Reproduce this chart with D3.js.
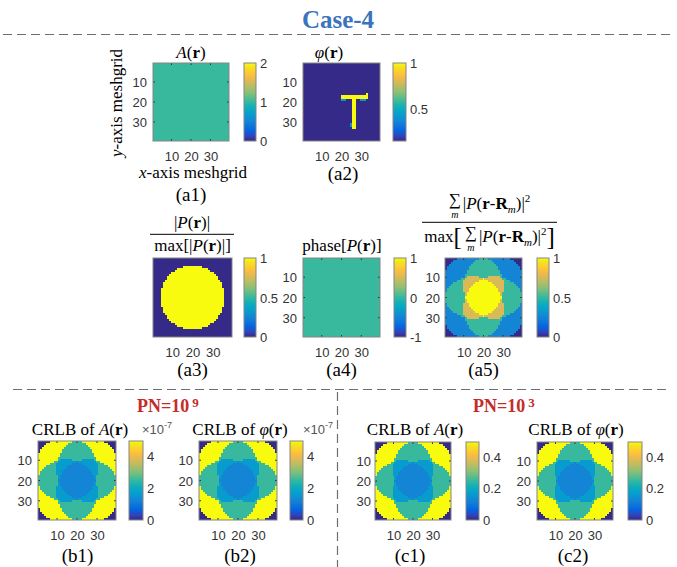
<!DOCTYPE html>
<html><head><meta charset="utf-8">
<script src="https://cdn.jsdelivr.net/npm/d3@7/dist/d3.min.js"></script>
<style>body{margin:0;background:#fff}svg{display:block}</style>
</head><body>
<svg id="fig" width="677" height="567"></svg>
<script>
// ---------------- data ----------------
const gridSize = 39;                 // pixels per side of each map
const gridCenter = 20;
const gridTicks = [10, 20, 30];

const amplitudeValue = 1;            // A(r): uniform amplitude
const phaseRange = [0.14, 1];        // φ(r): background level .. letter level
// blocks of the letter "T" in φ(r): [col0, col1, row0, row1, value]
const phaseBlocks = [
  [20, 33, 17, 18, 1],
  [33, 33, 16, 16, 1],
  [26, 27, 19, 33, 1],
  [20, 22, 19, 19, 0.4],
  [30, 32, 19, 19, 0.4],
  [25, 25, 31, 32, 0.4]
];
const probeRadius = 15.8;            // circular probe P(r)
const probePhase = 0;                // phase[P(r)]
const scanShifts = [[-5.5, -5.5], [5.5, -5.5], [-5.5, 5.5], [5.5, 5.5]];   // R_m
const overlapLevels = [0, 0.25, 0.5, 0.75, 1];             // normalised Σ|P(r-R_m)|² by overlap count
const crlbPN9 = [0, 4.9e-7, 2.45e-7, 1.63e-7, 1.23e-7];    // CRLB by overlap count, PN = 1e9
const crlbPN3 = [0, 0.49, 0.245, 0.163, 0.123];            // CRLB by overlap count, PN = 1e3

const cbAmplitude = {domain: [0, 2], ticks: [0, 1, 2]};
const cbPhi = {domain: [0.14, 1.0], ticks: [0.5, 1]};
const cbProbe = {domain: [0, 1], ticks: [0, 0.5, 1]};
const cbProbePhase = {domain: [-1, 1], ticks: [-1, 0, 1]};
const cbOverlap = {domain: [0, 1], ticks: [0, 0.5, 1]};
const cbPN9 = {domain: [0, 4.9e-7], ticks: [0, 2e-7, 4e-7], fmt: d => String(Math.round(d / 1e-7))};
const cbPN3 = {domain: [0, 0.49], ticks: [0, 0.2, 0.4]};

// parula colormap (sampled)
const parulaStops = [
  [0, '#352a87'], [4, '#3243ba'], [8, '#0363e1'], [12, '#0d75dc'], [16, '#1485d4'],
  [20, '#0998d1'], [24, '#06a7c6'], [28, '#15b1b4'], [32, '#38b99e'], [36, '#65be86'],
  [40, '#92bf73'], [44, '#b7bd64'], [48, '#d9ba56'], [52, '#f8bb44'], [56, '#fcce2e'],
  [60, '#f5e41d'], [63, '#f9fb0e']
];

// ---------------- helpers ----------------
const SERIF = "'Liberation Serif','Times New Roman',serif";
const SANS = "'Liberation Sans',Arial,Helvetica,sans-serif";
const parula = d3.scaleLinear()
  .domain(parulaStops.map(d => d[0] / 63))
  .range(parulaStops.map(d => d[1]))
  .interpolate(d3.interpolateRgb).clamp(true);
const colorAt = t => parula(Math.max(0, Math.min(63, Math.floor(t * 64))) / 63);

const idx = d3.range(1, gridSize + 1);
function cellsFrom(fn) {
  const out = [];
  for (const r of idx) for (const c of idx) out.push({c, r, v: fn(c, r)});
  return out;
}
const inProbe = (c, r, dx = 0, dy = 0) => Math.hypot(c - gridCenter - dx, r - gridCenter - dy) <= probeRadius;
const overlapCount = (c, r) => scanShifts.filter(([dx, dy]) => inProbe(c, r, dx, dy)).length;

const mapA = cellsFrom(() => amplitudeValue);
const mapPhi = cellsFrom((c, r) => {
  let v = phaseRange[0];
  phaseBlocks.forEach(([c0, c1, r0, r1, val]) => { if (c >= c0 && c <= c1 && r >= r0 && r <= r1) v = val; });
  return v;
});
const mapProbe = cellsFrom((c, r) => inProbe(c, r) ? 1 : 0);
const mapProbePhase = cellsFrom(() => probePhase);
const mapOverlap = cellsFrom((c, r) => overlapLevels[overlapCount(c, r)]);
const mapCrlb9 = cellsFrom((c, r) => crlbPN9[overlapCount(c, r)]);
const mapCrlb3 = cellsFrom((c, r) => crlbPN3[overlapCount(c, r)]);

const svg = d3.select('#fig');
const defs = svg.append('defs');

// ---------------- layout ----------------
const panels = [
  {id: 'a1', cells: mapA, box: [153, 63, 76, 78], cbBox: [244, 12], cb: cbAmplitude, yAxis: true, yPad: 6},
  {id: 'a2', cells: mapPhi, box: [303, 63, 77, 78], cbBox: [393, 13], cb: cbPhi, yAxis: true, yPad: 6},
  {id: 'a3', cells: mapProbe, box: [153, 258, 79, 79], cbBox: [244, 12], cb: cbProbe, yAxis: false},
  {id: 'a4', cells: mapProbePhase, box: [303, 258, 77, 79], cbBox: [394, 12], cb: cbProbePhase, yAxis: true, yPad: 6},
  {id: 'a5', cells: mapOverlap, box: [445, 258, 77, 79], cbBox: [537, 12], cb: cbOverlap, yAxis: true, yPad: 5},
  {id: 'b1', cells: mapCrlb9, box: [38, 441, 78, 79], cbBox: [129, 14], cb: cbPN9, yAxis: true, yPad: 6},
  {id: 'b2', cells: mapCrlb9, box: [199, 441, 78, 79], cbBox: [290, 13], cb: cbPN9, yAxis: true, yPad: 6},
  {id: 'c1', cells: mapCrlb3, box: [375, 442, 76, 78], cbBox: [466, 13], cb: cbPN3, yAxis: true, yPad: 4},
  {id: 'c2', cells: mapCrlb3, box: [537, 442, 76, 78], cbBox: [628, 14], cb: cbPN3, yAxis: true, yPad: 6}
];

function styleTicks(sel) {
  sel.attr('font-family', null).attr('font-size', null);
  sel.select('.domain').remove();
  sel.selectAll('text').attr('font-family', SANS).attr('font-size', 13).attr('fill', '#333');
}

function drawPanel(p) {
  const [x0, y0, w, h] = p.box;
  const g = svg.append('g').attr('transform', `translate(${x0},${y0})`);
  const xs = d3.scaleLinear().domain([0.5, gridSize + 0.5]).range([0, w]);
  const ys = d3.scaleLinear().domain([0.5, gridSize + 0.5]).range([0, h]);
  const [lo, hi] = p.cb.domain;
  g.append('g').attr('shape-rendering', 'crispEdges')
    .selectAll('rect').data(p.cells).join('rect')
    .attr('x', d => xs(d.c - 0.5)).attr('y', d => ys(d.r - 0.5))
    .attr('width', d => xs(d.c + 0.5) - xs(d.c - 0.5))
    .attr('height', d => ys(d.r + 0.5) - ys(d.r - 0.5))
    .attr('fill', d => colorAt((d.v - lo) / (hi - lo)));
  // inner tick marks on all four sides
  const tk = g.append('g').attr('stroke', '#333').attr('stroke-width', 1);
  gridTicks.forEach(t => {
    tk.append('line').attr('x1', xs(t)).attr('x2', xs(t)).attr('y1', h).attr('y2', h - 2);
    tk.append('line').attr('x1', xs(t)).attr('x2', xs(t)).attr('y1', 0).attr('y2', 2);
    tk.append('line').attr('y1', ys(t)).attr('y2', ys(t)).attr('x1', 0).attr('x2', 2);
    tk.append('line').attr('y1', ys(t)).attr('y2', ys(t)).attr('x1', w).attr('x2', w - 2);
  });
  g.append('rect').attr('width', w).attr('height', h).attr('fill', 'none')
    .attr('stroke', '#858585').attr('stroke-width', 1);
  // axes
  const ax = g.append('g').attr('transform', `translate(0,${h})`)
    .call(d3.axisBottom(xs).tickValues(gridTicks).tickSize(0).tickFormat(d3.format('d')));
  styleTicks(ax);
  ax.selectAll('text').attr('y', 20).attr('dy', null);
  if (p.yAxis) {
    const ay = g.append('g')
      .call(d3.axisLeft(ys).tickValues(gridTicks).tickSize(0).tickPadding(p.yPad).tickFormat(d3.format('d')));
    styleTicks(ay);
    ay.selectAll('text').attr('dy', '0.36em');
  }
  // colorbar
  const [cx, cw] = p.cbBox;
  const gid = 'grad-' + p.id;
  const grad = defs.append('linearGradient').attr('id', gid)
    .attr('x1', 0).attr('y1', 1).attr('x2', 0).attr('y2', 0);
  parulaStops.forEach(([k, col]) => grad.append('stop').attr('offset', k / 63).attr('stop-color', col));
  const cs = d3.scaleLinear().domain(p.cb.domain).range([y0 + h, y0]);
  svg.append('rect').attr('x', cx).attr('y', y0).attr('width', cw).attr('height', h)
    .attr('fill', `url(#${gid})`).attr('stroke', '#858585').attr('stroke-width', 1);
  const ac = svg.append('g').attr('transform', `translate(${cx + cw},0)`)
    .call(d3.axisRight(cs).tickValues(p.cb.ticks).tickSize(0).tickPadding(4)
      .tickFormat(p.cb.fmt || (d => String(d))));
  styleTicks(ac);
  ac.selectAll('text').attr('dy', '0.36em');
}
panels.forEach(drawPanel);

// ---------------- text ----------------
function mathText(x, y, parts, size = 17, anchor = 'middle') {
  const t = svg.append('text').attr('x', x).attr('y', y).attr('text-anchor', anchor)
    .attr('font-family', SERIF).attr('font-size', size).attr('fill', '#000');
  parts.forEach(([s, st = '']) => {
    const ts = t.append('tspan').text(s);
    if (st.includes('i')) ts.attr('font-style', 'italic');
    if (st.includes('b')) ts.attr('font-weight', 'bold');
  });
  return t;
}
// sequential layout for expressions with stacked sub-indices
function seqLine(cx, baseline, pieces) {
  const g = svg.append('g');
  let x = 0;
  pieces.forEach(pc => {
    const el = g.append('text').attr('x', x).attr('y', pc.dy || 0)
      .attr('font-family', SERIF).attr('font-size', pc.size || 17).text(pc.t);
    if (pc.i) el.attr('font-style', 'italic');
    if (pc.b) el.attr('font-weight', 'bold');
    const w = el.node().getComputedTextLength();
    if (pc.under) {
      g.append('text').attr('x', x + w / 2).attr('y', (pc.dy || 0) + 13).attr('text-anchor', 'middle')
        .attr('font-family', SERIF).attr('font-style', 'italic').attr('font-size', 10).text(pc.under);
    }
    x += w + (pc.gap || 0);
  });
  g.attr('transform', `translate(${cx - x / 2},${baseline})`);
}

// main title and separators
svg.append('text').attr('x', 338).attr('y', 27.5).attr('text-anchor', 'middle')
  .attr('font-family', SERIF).attr('font-weight', 'bold').attr('font-size', 25)
  .attr('fill', '#3a74bc').text('Case-4');
const dash = {stroke: '#6e6e6e', 'stroke-width': 1.2, 'stroke-dasharray': '9,5'};
function dline(x1, y1, x2, y2) {
  const l = svg.append('line').attr('x1', x1).attr('y1', y1).attr('x2', x2).attr('y2', y2);
  Object.entries(dash).forEach(([k, v]) => l.attr(k, v));
}
dline(3, 34.5, 672, 34.5);
dline(13, 389.5, 668, 389.5);
dline(337.5, 392, 337.5, 567);

// panel titles
mathText(191, 57.5, [['A', 'i'], ['('], ['r', 'b'], [')']]);
mathText(329, 57.5, [['φ', 'i'], ['('], ['r', 'b'], [')']]);
mathText(192, 228, [['|'], ['P', 'i'], ['('], ['r', 'b'], [')|']]);
svg.append('line').attr('x1', 150).attr('x2', 234).attr('y1', 234.3).attr('y2', 234.3)
  .attr('stroke', '#000').attr('stroke-width', 1);
mathText(192.5, 251, [['max[|'], ['P', 'i'], ['('], ['r', 'b'], [')|]']]);
mathText(342, 251, [['phase['], ['P', 'i'], ['('], ['r', 'b'], [')]']]);

const sumTerm = [
  {t: '∑', size: 17, dy: -4, under: 'm', gap: 2}, {t: '|'}, {t: 'P', i: true}, {t: '('}, {t: 'r', b: true},
  {t: '-'}, {t: 'R', b: true}, {t: 'm', i: true, size: 11, dy: 4}, {t: ')|'}, {t: '2', size: 11, dy: -7}
];
seqLine(489.5, 209, sumTerm);
svg.append('line').attr('x1', 422).attr('x2', 557).attr('y1', 222.3).attr('y2', 222.3)
  .attr('stroke', '#000').attr('stroke-width', 1);
seqLine(489.5, 242, [{t: 'max'}, {t: '[', size: 25, dy: 3, gap: 3}, ...sumTerm, {t: ']', size: 25, dy: 3}]);

const crlbTitles = [[80, 'A'], [240, 'φ'], [415, 'A'], [576, 'φ']];
crlbTitles.forEach(([x, s]) => mathText(x, 434.5, [['CRLB of '], [s, 'i'], ['('], ['r', 'b'], [')']]));
[142, 303].forEach(x => {
  const t = svg.append('text').attr('x', x).attr('y', 434).attr('font-family', SANS)
    .attr('font-size', 13).attr('fill', '#555').text('×10');
  t.append('tspan').attr('dy', -6).attr('font-size', 9).text('-7');
});

// photon-number headers
[[137, '9'], [473, '3']].forEach(([x, e]) => {
  const t = svg.append('text').attr('x', x).attr('y', 412).attr('font-family', SERIF)
    .attr('font-weight', 'bold').attr('font-size', 18).attr('fill', '#c62a2a').text('PN=10');
  t.append('tspan').attr('dx', 3).attr('dy', -5).attr('font-size', 13).text(e);
});

// axis names
svg.append('text').attr('transform', 'translate(122,103) rotate(-90)').attr('text-anchor', 'middle')
  .attr('font-family', SERIF).attr('font-size', 17)
  .call(t => { t.append('tspan').attr('font-style', 'italic').text('y'); t.append('tspan').text('-axis meshgrid'); });
svg.append('text').attr('x', 193).attr('y', 178).attr('text-anchor', 'middle')
  .attr('font-family', SERIF).attr('font-size', 17)
  .call(t => { t.append('tspan').attr('font-style', 'italic').text('x'); t.append('tspan').text('-axis meshgrid'); });

// panel tags
const tags = [
  ['(a1)', 191, 200.5], ['(a2)', 343, 180], ['(a3)', 192.5, 376], ['(a4)', 341.5, 376], ['(a5)', 483.5, 376],
  ['(b1)', 77.5, 561.5], ['(b2)', 240, 561.5], ['(c1)', 410, 561.5], ['(c2)', 573, 561.5]
];
tags.forEach(([s, x, y]) => svg.append('text').attr('x', x).attr('y', y).attr('text-anchor', 'middle')
  .attr('font-family', SERIF).attr('font-size', 19).attr('fill', '#000').text(s));
</script>
</body></html>
